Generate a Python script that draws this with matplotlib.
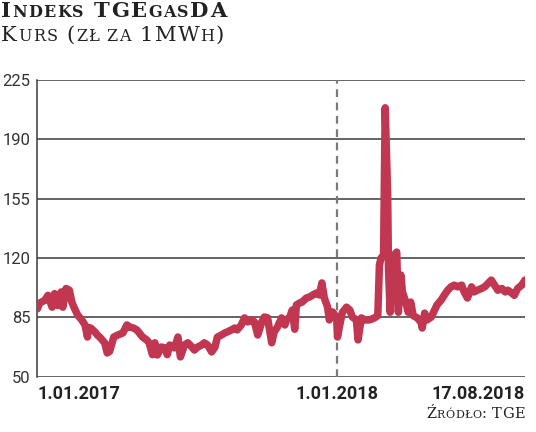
import pandas as pd
import matplotlib
matplotlib.use("Agg")
import matplotlib.pyplot as plt
from matplotlib.offsetbox import TextArea, HPacker, AnchoredOffsetbox

# TGEgasDA index, PLN per MWh
dates = [
    "2017-01-01", "2017-01-04", "2017-01-10", "2017-01-14", "2017-01-19", "2017-01-22",
    "2017-01-26", "2017-01-30", "2017-02-01", "2017-02-05", "2017-02-09", "2017-02-12",
    "2017-02-15", "2017-02-19", "2017-02-24", "2017-02-28", "2017-03-03", "2017-03-04",
    "2017-03-07", "2017-03-12", "2017-03-15", "2017-03-19", "2017-03-24", "2017-03-27",
    "2017-03-30", "2017-04-04", "2017-04-09", "2017-04-15", "2017-04-20", "2017-04-23",
    "2017-04-28", "2017-05-02", "2017-05-05", "2017-05-09", "2017-05-14", "2017-05-17",
    "2017-05-21", "2017-05-24", "2017-05-27", "2017-06-01", "2017-06-05", "2017-06-08",
    "2017-06-11", "2017-06-13", "2017-06-17", "2017-06-21", "2017-06-24", "2017-06-29",
    "2017-07-03", "2017-07-08", "2017-07-11", "2017-07-15", "2017-07-20", "2017-07-23",
    "2017-07-27", "2017-08-01", "2017-08-05", "2017-08-08", "2017-08-13", "2017-08-17",
    "2017-08-20", "2017-08-25", "2017-08-29", "2017-09-01", "2017-09-06", "2017-09-10",
    "2017-09-14", "2017-09-19", "2017-09-22", "2017-09-26", "2017-10-01", "2017-10-04",
    "2017-10-08", "2017-10-13", "2017-10-16", "2017-10-20", "2017-10-25", "2017-10-29",
    "2017-10-31", "2017-11-04", "2017-11-07", "2017-11-10", "2017-11-12", "2017-11-16",
    "2017-11-19", "2017-11-24", "2017-11-28", "2017-12-02", "2017-12-06", "2017-12-10",
    "2017-12-13", "2017-12-16", "2017-12-20", "2017-12-22", "2017-12-26", "2017-12-31",
    "2018-01-01", "2018-01-03", "2018-01-07", "2018-01-12", "2018-01-16", "2018-01-19",
    "2018-01-24", "2018-01-26", "2018-01-30", "2018-02-03", "2018-02-09", "2018-02-15",
    "2018-02-19", "2018-02-21", "2018-02-23", "2018-02-26", "2018-02-28", "2018-03-03",
    "2018-03-04", "2018-03-06", "2018-03-09", "2018-03-11", "2018-03-14", "2018-03-16",
    "2018-03-19", "2018-03-21", "2018-03-25", "2018-03-28", "2018-03-31", "2018-04-03",
    "2018-04-08", "2018-04-13", "2018-04-14", "2018-04-17", "2018-04-20", "2018-04-25",
    "2018-04-29", "2018-05-02", "2018-05-07", "2018-05-11", "2018-05-15", "2018-05-19",
    "2018-05-23", "2018-05-27", "2018-06-01", "2018-06-04", "2018-06-08", "2018-06-13",
    "2018-06-16", "2018-06-20", "2018-06-25", "2018-06-29", "2018-07-03", "2018-07-07",
    "2018-07-11", "2018-07-15", "2018-07-20", "2018-07-24", "2018-07-27", "2018-08-01",
    "2018-08-04", "2018-08-08", "2018-08-13", "2018-08-17",
]
prices = [
    90, 93.5, 95, 98, 91, 99,
    92, 100, 91, 102, 101, 94,
    90.5, 86.4, 83.5, 80.5, 73.4, 79,
    78.7, 76.4, 74.6, 72.8, 69.9, 64,
    65, 73.4, 74.6, 75.8, 80.5, 79.3,
    78.7, 77.6, 75.8, 73.4, 71.7, 69.9,
    63, 70, 62.8, 67.5, 67, 63,
    68.7, 67.5, 67, 73.4, 61.7, 68.7,
    70, 67.5, 65.7, 67.5, 68.7, 70,
    68.7, 64.6, 67.5, 73.4, 74.6, 75.8,
    76.4, 77.6, 78.7, 77.6, 80.5, 84.7,
    82.3, 83.5, 82.3, 74.6, 82.3, 85.2,
    84.7, 70, 76.4, 79.3, 84.7, 80.5,
    83.5, 85.2, 89.3, 78, 92.3, 93.5,
    94, 96.4, 97, 98.2, 99.3, 98.2,
    105.3, 96.4, 91, 83.5, 88.2, 85,
    73.4, 78.7, 88, 91, 89.3, 85.2,
    83.5, 71.7, 84.7, 83.5, 83.5, 84.7,
    86, 116, 120, 121.5, 208.6, 157,
    114, 88, 114, 121.7, 123.5, 88,
    110, 100, 94, 88, 94, 86,
    84.7, 81.7, 78.7, 87.5, 83.5, 85.2,
    89.3, 92.3, 95.2, 98.2, 101, 103,
    104, 103, 104, 100, 96.4, 103,
    100, 101, 102, 103, 105, 107,
    104, 101, 102, 100, 101, 99.3,
    98, 102, 104, 107,
]
yticks = [50, 85, 120, 155, 190, 225]
xlabels = ["1.01.2017", "1.01.2018", "17.08.2018"]
xlabel_dates = ["2017-01-01", "2018-01-01", "2018-08-17"]

sans = ["Roboto", "DejaVu Sans"]
serif = ["DejaVu Serif"]
grey = "#3a3a3a"

x = pd.to_datetime(dates)
fig = plt.figure(figsize=(5.36, 4.32), dpi=100)
ax = fig.add_axes([37.3 / 536, 1 - 376.7 / 432, (525 - 37.3) / 536, (376.7 - 80) / 432])

ax.plot(x, prices, color="#c13650", lw=5.4, solid_joinstyle="round", solid_capstyle="round", zorder=3)
ax.axvline(pd.Timestamp("2018-01-01"), color="#7a7a7a", lw=1.6, ls=(0, (3.5, 2.5)), zorder=2)

ax.set_xlim(pd.Timestamp(xlabel_dates[0]), pd.Timestamp(xlabel_dates[-1]))
ax.set_ylim(50, 225)
ax.set_yticks(yticks)
ax.set_yticklabels([str(v) for v in yticks], family=sans, fontsize=12, color="#333333")
ax.tick_params(axis="y", length=0, pad=5)
ax.set_xticks([])
ax.yaxis.grid(True, color=grey, lw=1.1)
ax.set_axisbelow(True)
for s in ["top", "right", "bottom"]:
    ax.spines[s].set_visible(False)
ax.spines["left"].set_color(grey)
ax.spines["left"].set_linewidth(1.1)
ax.spines["left"].set_bounds(50, 225)

for lab, d, ha in zip(xlabels, xlabel_dates, ["left", "center", "right"]):
    ax.annotate(lab, xy=(pd.Timestamp(d), 0), xycoords=("data", "axes fraction"),
                xytext=(0, -6), textcoords="offset points", ha=ha, va="top",
                family=sans, fontsize=13, fontweight="bold", color="#222222")


def small_caps(parts, size, weight, track=0.0):
    # fake small caps: lower-case runs set in smaller capitals, one box per glyph
    boxes = []
    for txt, big in parts:
        fs = size if big else size * 0.76
        for ch in (txt if big else txt.upper()):
            boxes.append(TextArea(ch, textprops=dict(family=serif, fontsize=fs, fontweight=weight,
                                                     color="#222222")))
    return HPacker(children=boxes, align="baseline", pad=0, sep=track)


title = small_caps([("I", True), ("ndeks", False), (" TGE", True), ("gas", False), ("DA", True)],
                   15.2, "bold", 1.0)
sub = small_caps([("K", True), ("urs", False), (" (", True), ("zł za", False), (" 1MW", True),
                  ("h", False), (")", True)], 15.2, "normal", 0.9)
for box, ypos in [(title, 1 - 1 / 432), (sub, 1 - 26 / 432)]:
    anc = AnchoredOffsetbox(loc="upper left", child=box, pad=0, borderpad=0, frameon=False,
                            bbox_to_anchor=(1 / 536, ypos), bbox_transform=fig.transFigure)
    fig.add_artist(anc)

src = small_caps([("Ź", True), ("ródło", False), (": TGE", True)], 10.5, "normal", 0.3)
fig.add_artist(AnchoredOffsetbox(loc="upper right", child=src, pad=0, borderpad=0, frameon=False,
                                 bbox_to_anchor=(525 / 536, 1 - 407 / 432),
                                 bbox_transform=fig.transFigure))

fig.savefig("out.png", dpi=100)
plt.close(fig)
